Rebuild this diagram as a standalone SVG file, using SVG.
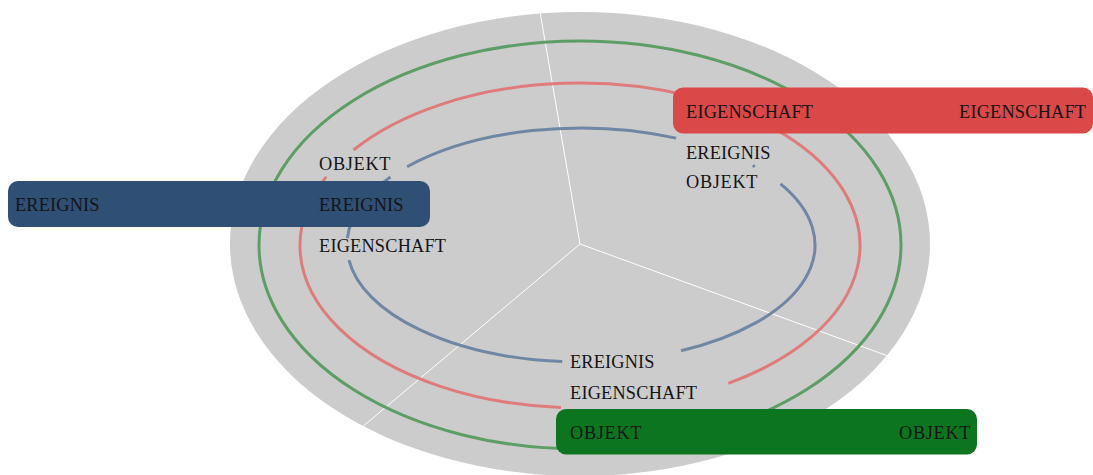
<svg xmlns="http://www.w3.org/2000/svg" width="1093" height="475" viewBox="0 0 1093 475">
  <defs>
    <style>
      .disc { fill: #cccccc; }
      .spoke { stroke: #ffffff; stroke-width: 1; fill: none; }
      .ring { fill: none; stroke-width: 3; stroke-linecap: butt; }
      .ring-g { stroke: #5c9e65; }
      .ring-r { stroke: #df7b7b; }
      .ring-b { stroke: #6f86a4; }
      .lbl { font-family: "Liberation Serif", "Times New Roman", serif; font-size: 18.3px; fill: #141414; }
      .box-b { fill: #2f4f75; }
      .box-r { fill: #db4848; }
      .box-g { fill: #0b761f; }
    </style>
  </defs>

  <!-- base disc with three sector dividers -->
  <g id="background">
    <ellipse class="disc" cx="580" cy="244" rx="350" ry="232"/>
    <line class="spoke" x1="580" y1="244" x2="540" y2="12"/>
    <line class="spoke" x1="580" y1="244" x2="888" y2="356"/>
    <line class="spoke" x1="580" y1="244" x2="361" y2="428"/>
  </g>

  <!-- rings, broken where the labels sit -->
  <g id="connectors">
    <ellipse class="ring ring-g" cx="580" cy="245" rx="321" ry="204"/>

    <path class="ring ring-r" d="M353.48 149.98 A280 162.5 0 1 1 728.38 383.31"/>
    <path class="ring ring-r" d="M560.96 407.62 A280 162.5 0 0 1 326.23 176.82"/>

    <path class="ring ring-b" d="M407.1 166.71 A234 117 0 0 1 676.18 138.11"/>
    <path class="ring ring-b" d="M752.7 165.5 A234 117 0 0 1 754.9 166.7"/>
    <path class="ring ring-b" d="M780.52 183.87 A234 117 0 0 1 681.0 350.78"/>
    <path class="ring ring-b" d="M562.23 361.62 A234 117 0 0 1 348.95 260.07"/>
    <path class="ring ring-b" d="M347.41 238.06 A234 117 0 0 1 390.5 177.06"/>
  </g>

  <!-- ring labels, left sector -->
  <g id="labels-left">
    <text class="lbl" x="319" y="169.5" textLength="71.5">OBJEKT</text>
    <text class="lbl" x="319" y="252" textLength="127">EIGENSCHAFT</text>
  </g>

  <!-- ring labels, right sector -->
  <g id="labels-right">
    <text class="lbl" x="686" y="158.5" textLength="84.5">EREIGNIS</text>
    <text class="lbl" x="686" y="187.5" textLength="71.5">OBJEKT</text>
  </g>

  <!-- ring labels, bottom sector -->
  <g id="labels-bottom">
    <text class="lbl" x="570" y="367.5" textLength="84.5">EREIGNIS</text>
    <text class="lbl" x="570" y="398.5" textLength="127">EIGENSCHAFT</text>
  </g>

  <!-- highlighted bars -->
  <g id="node-ereignis">
    <rect class="box-b" x="8" y="181" width="422" height="46" rx="10"/>
    <text class="lbl" x="15" y="211" textLength="84.5">EREIGNIS</text>
    <text class="lbl" x="319" y="211" textLength="84.5">EREIGNIS</text>
  </g>

  <g id="node-eigenschaft">
    <rect class="box-r" x="673" y="87.5" width="420" height="46" rx="10"/>
    <text class="lbl" x="686" y="117.5" textLength="127">EIGENSCHAFT</text>
    <text class="lbl" x="959" y="117.5" textLength="127">EIGENSCHAFT</text>
  </g>

  <g id="node-objekt">
    <rect class="box-g" x="556" y="409" width="421" height="45.5" rx="10"/>
    <text class="lbl" x="570" y="438.5" textLength="71.5">OBJEKT</text>
    <text class="lbl" x="899" y="438.5" textLength="71.5">OBJEKT</text>
  </g>
</svg>
